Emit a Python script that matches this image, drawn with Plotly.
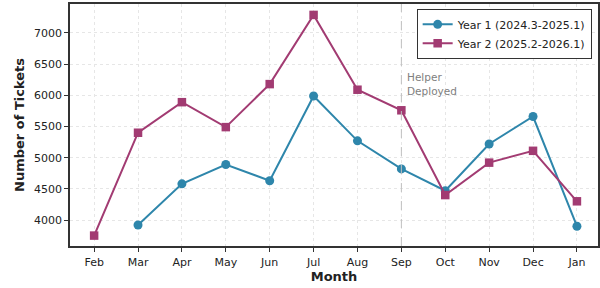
import plotly.graph_objects as go

months = ["Feb", "Mar", "Apr", "May", "Jun", "Jul", "Aug", "Sep", "Oct", "Nov", "Dec", "Jan"]
year1_months = ["Mar", "Apr", "May", "Jun", "Jul", "Aug", "Sep", "Oct", "Nov", "Dec", "Jan"]
year1 = [3920, 4580, 4890, 4630, 5990, 5270, 4820, 4470, 5220, 5660, 3900]
year2_months = months
year2 = [3750, 5400, 5890, 5490, 6180, 7290, 6090, 5760, 4400, 4920, 5110, 4300]
y_ticks = [4000, 4500, 5000, 5500, 6000, 6500, 7000]

c1 = "#2E86AB"
c2 = "#A23B72"
idx = {m: i for i, m in enumerate(months)}

fig = go.Figure()
fig.add_trace(go.Scatter(
    x=[idx[m] for m in year1_months], y=year1, mode="lines+markers",
    name="Year 1 (2024.3-2025.1)",
    line=dict(color=c1, width=2), marker=dict(symbol="circle", size=9, color=c1)))
fig.add_trace(go.Scatter(
    x=[idx[m] for m in year2_months], y=year2, mode="lines+markers",
    name="Year 2 (2025.2-2026.1)",
    line=dict(color=c2, width=2), marker=dict(symbol="square", size=8.5, color=c2)))

fig.add_vline(x=idx["Sep"], line=dict(color="#c0c0c0", width=1, dash="dash"))
fig.add_annotation(x=idx["Sep"], y=6420, xref="x", yref="y", text="Helper<br>Deployed",
                   showarrow=False, xanchor="left", yanchor="top", xshift=4, align="left",
                   font=dict(size=10.5, color="#808080"))

fig.update_layout(
    width=600, height=288, margin=dict(l=70, r=2, t=4, b=42),
    paper_bgcolor="white", plot_bgcolor="white",
    font=dict(family="DejaVu Sans", size=11, color="#222"),
    showlegend=True,
    legend=dict(x=0.988, y=0.98, xanchor="right", yanchor="top",
                bgcolor="white", bordercolor="#333", borderwidth=1,
                font=dict(size=11), tracegroupgap=0, itemwidth=30),
    xaxis=dict(range=[-0.55, 11.48], tickmode="array", tickvals=list(range(len(months))),
               ticktext=months, showgrid=True, gridcolor="#e6e6e6", griddash="dot",
               showline=True, linecolor="#333", linewidth=1.5, mirror=True,
               ticks="outside", ticklen=4, tickcolor="#333", zeroline=False,
               automargin=False, ticklabelstandoff=1,
               title=dict(text="<b>Month</b>", font=dict(size=13), standoff=3)),
    yaxis=dict(range=[3583, 7465], tickmode="array", tickvals=y_ticks,
               showgrid=True, gridcolor="#e6e6e6", griddash="dot",
               showline=True, linecolor="#333", linewidth=1.5, mirror=True,
               ticks="outside", ticklen=4, tickcolor="#333", zeroline=False,
               automargin=False,
               title=dict(text="<b>Number of Tickets</b>", font=dict(size=13), standoff=6)),
)
fig.write_html("out.html", config={"displayModeBar": False},
               post_script="document.body.style.margin='0';document.body.style.padding='0';")
